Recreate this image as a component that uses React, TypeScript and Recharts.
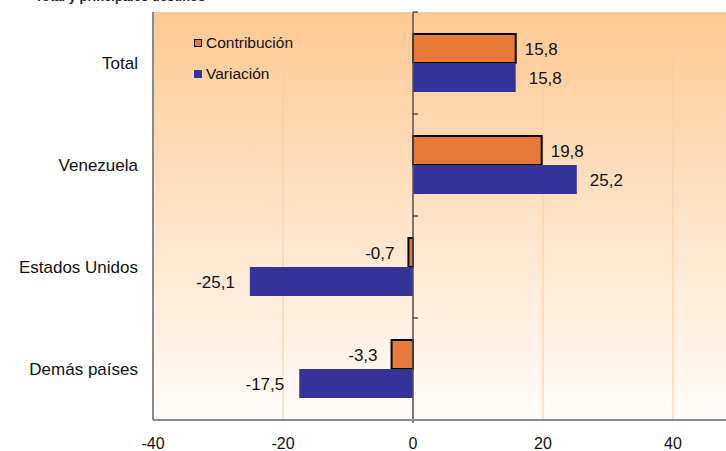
import React from 'react';
import { BarChart, Bar, XAxis, YAxis, CartesianGrid, ReferenceLine, LabelList } from 'recharts';

const categories = ['Total', 'Venezuela', 'Estados Unidos', 'Demás países'];
const contribucion = [15.8, 19.8, -0.7, -3.3];
const variacion = [15.8, 25.2, -25.1, -17.5];
const xTicks = [-40, -20, 0, 20, 40];
const seriesNames = ['Contribución', 'Variación'];
const titleText = 'Total y principales destinos';

const data = categories.map((c, i) => ({ name: c, contribucion: contribucion[i], variacion: variacion[i] }));

const FONT = '"Liberation Sans", Arial, sans-serif';
const ORANGE = '#E77A3B';
const BLUE = '#333399';

const fmt = (v: number) => v.toFixed(1).replace('.', ',');

const makeLabel = (posOffset: number, negOffset: number) => (props: any) => {
  const { x, y, width, height, value } = props;
  const left = Math.min(x, x + width);
  const right = Math.max(x, x + width);
  const cy = y + height / 2;
  const neg = value < 0;
  return (
    <text
      x={neg ? left - negOffset : right + posOffset}
      y={cy}
      dy="0.36em"
      textAnchor={neg ? 'end' : 'start'}
      fontFamily={FONT}
      fontSize={17}
      fill="#111"
    >
      {fmt(value)}
    </text>
  );
};

const ZeroAxis = (props: any) => {
  const x = props.x1 ?? props.x ?? 0;
  const y1 = props.y1 ?? 0;
  const y2 = props.y2 ?? 0;
  const top = Math.min(y1, y2);
  const bottom = Math.max(y1, y2);
  const n = categories.length;
  const ticks = [];
  for (let i = 0; i <= n; i++) {
    const ty = top + ((bottom - top) * i) / n;
    ticks.push(<line key={i} x1={x} x2={x + 5} y1={ty} y2={ty} stroke="#333" strokeWidth={1.2} />);
  }
  return (
    <g>
      <line x1={x} x2={x} y1={top} y2={bottom + 3} stroke="#555" strokeWidth={1.5} />
      {ticks}
    </g>
  );
};

const LegendBox = () => {
  const colors = [ORANGE, BLUE];
  return (
    <div style={{ position: 'absolute', left: 194, top: 34, fontFamily: FONT, fontSize: 15.5, color: '#111', lineHeight: '18px' }}>
      {seriesNames.map((n, i) => (
        <div key={n} style={{ display: 'flex', alignItems: 'center', height: 18, marginBottom: i === 0 ? 13 : 0 }}>
          <span
            style={{
              display: 'inline-block',
              width: i === 0 ? 6 : 8,
              height: i === 0 ? 6 : 8,
              background: colors[i],
              border: i === 0 ? '1px solid #000' : 'none',
              marginRight: 4,
            }}
          />
          <span>{n}</span>
        </div>
      ))}
    </div>
  );
};

export default function App() {
  return (
    <div style={{ position: 'absolute', left: 0, top: 0, width: 726, height: 451, overflow: 'hidden', background: '#fff' }}>
      <div
        style={{
          position: 'absolute',
          left: 35,
          top: -11,
          fontFamily: FONT,
          fontWeight: 'bold',
          fontSize: 13,
          whiteSpace: 'nowrap',
          color: '#222',
        }}
      >
        {titleText}
      </div>
      <BarChart
        width={803}
        height={451}
        data={data}
        layout="vertical"
        margin={{ top: 12, right: 0, bottom: 0, left: 0 }}
        barSize={29}
        barGap={0}
      >
        <defs>
          <linearGradient id="bg" x1="0" y1="0" x2="0" y2="1">
            <stop offset="0%" stopColor="#FFC993" />
            <stop offset="100%" stopColor="#FFFCFA" />
          </linearGradient>
        </defs>
        <CartesianGrid xAxisId="bottom" horizontal={false} vertical={true} stroke="#FCCB9C" fill="url(#bg)" />
        <XAxis
          xAxisId="bottom"
          type="number"
          domain={[-40, 60]}
          ticks={xTicks}
          allowDataOverflow
          height={31}
          tickLine={false}
          tickSize={0}
          tickMargin={18}
          axisLine={{ stroke: '#8a8a8a', strokeWidth: 2 }}
          tick={{ fontFamily: FONT, fontSize: 16, fill: '#111' }}
        />
        <XAxis
          xAxisId="top"
          orientation="top"
          type="number"
          domain={[-40, 60]}
          height={0}
          tick={false}
          tickLine={false}
          axisLine={{ stroke: '#8a8a8a', strokeWidth: 2 }}
        />
        <YAxis
          type="category"
          dataKey="name"
          width={153}
          tickLine={false}
          tickSize={0}
          tickMargin={15}
          axisLine={{ stroke: '#8a8a8a', strokeWidth: 2 }}
          tick={{ fontFamily: FONT, fontSize: 17, fill: '#111' }}
        />
        <Bar xAxisId="bottom" dataKey="contribucion" name={seriesNames[0]} fill={ORANGE} stroke="#000" strokeWidth={2} isAnimationActive={false}>
          <LabelList dataKey="contribucion" content={makeLabel(9, 14)} />
        </Bar>
        <Bar xAxisId="bottom" dataKey="variacion" name={seriesNames[1]} fill={BLUE} isAnimationActive={false}>
          <LabelList dataKey="variacion" content={makeLabel(13, 15)} />
        </Bar>
        <ReferenceLine xAxisId="bottom" x={0} shape={<ZeroAxis />} />
      </BarChart>
      <LegendBox />
    </div>
  );
}
